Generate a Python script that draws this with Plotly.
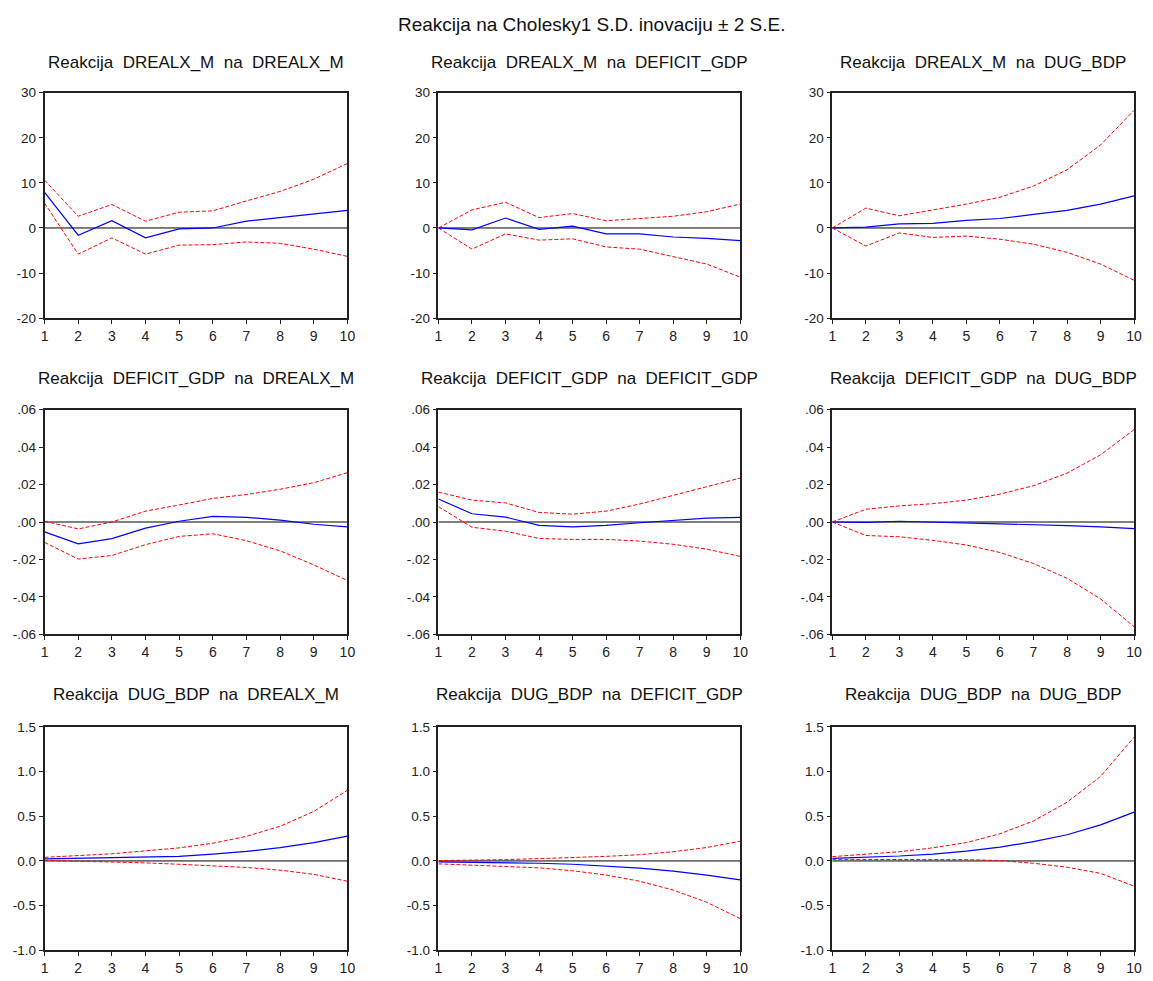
import plotly.graph_objects as go

periods = [1, 2, 3, 4, 5, 6, 7, 8, 9, 10]

titles = [
    "Reakcija  DREALX_M  na  DREALX_M",
    "Reakcija  DREALX_M  na  DEFICIT_GDP",
    "Reakcija  DREALX_M  na  DUG_BDP",
    "Reakcija  DEFICIT_GDP  na  DREALX_M",
    "Reakcija  DEFICIT_GDP  na  DEFICIT_GDP",
    "Reakcija  DEFICIT_GDP  na  DUG_BDP",
    "Reakcija  DUG_BDP  na  DREALX_M",
    "Reakcija  DUG_BDP  na  DEFICIT_GDP",
    "Reakcija  DUG_BDP  na  DUG_BDP",
]

# Row 1: DREALX_M responses
resp_1 = [7.9, -1.6, 1.6, -2.2, -0.2, 0.0, 1.5, 2.3, 3.0, 3.9]
up_1 = [10.6, 2.6, 5.2, 1.5, 3.5, 3.8, 6.0, 8.1, 10.8, 14.3]
lo_1 = [5.5, -5.8, -2.2, -5.8, -3.8, -3.7, -3.1, -3.4, -4.7, -6.3]

resp_2 = [0.0, -0.4, 2.2, -0.3, 0.4, -1.3, -1.3, -2.0, -2.3, -2.8]
up_2 = [0.0, 4.0, 5.7, 2.3, 3.2, 1.6, 2.1, 2.6, 3.6, 5.3]
lo_2 = [0.0, -4.7, -1.3, -2.7, -2.4, -4.2, -4.7, -6.4, -8.0, -10.9]

resp_3 = [0.0, 0.2, 0.9, 1.0, 1.7, 2.1, 3.0, 3.9, 5.3, 7.1]
up_3 = [0.0, 4.4, 2.7, 4.0, 5.3, 6.8, 9.3, 12.9, 18.4, 26.1]
lo_3 = [0.0, -4.0, -1.1, -2.1, -1.8, -2.5, -3.6, -5.4, -8.0, -11.6]

# Row 2: DEFICIT_GDP responses
resp_4 = [-0.0053, -0.0117, -0.0089, -0.0033, 0.0004, 0.0030, 0.0025, 0.0010, -0.0012, -0.0026]
up_4 = [0.0004, -0.0037, 0.0000, 0.0058, 0.0091, 0.0126, 0.0147, 0.0175, 0.0210, 0.0264]
lo_4 = [-0.0109, -0.0198, -0.0179, -0.0121, -0.0077, -0.0063, -0.0100, -0.0154, -0.0229, -0.0313]

resp_5 = [0.0123, 0.0044, 0.0026, -0.0018, -0.0026, -0.0018, -0.0004, 0.0010, 0.0021, 0.0025]
up_5 = [0.0160, 0.0117, 0.0102, 0.0051, 0.0042, 0.0058, 0.0096, 0.0142, 0.0186, 0.0235]
lo_5 = [0.0082, -0.0028, -0.0049, -0.0088, -0.0093, -0.0093, -0.0102, -0.0119, -0.0145, -0.0184]

resp_6 = [0.0, -0.0002, 0.0004, 0.0000, -0.0004, -0.0007, -0.0014, -0.0019, -0.0026, -0.0035]
up_6 = [0.0, 0.0068, 0.0086, 0.0098, 0.0117, 0.0149, 0.0194, 0.0261, 0.0359, 0.0494]
lo_6 = [0.0, -0.0072, -0.0079, -0.0098, -0.0123, -0.0163, -0.0222, -0.0301, -0.0411, -0.0560]

# Row 3: DUG_BDP responses
resp_7 = [0.022, 0.030, 0.033, 0.044, 0.051, 0.077, 0.106, 0.150, 0.205, 0.278]
up_7 = [0.040, 0.062, 0.080, 0.113, 0.146, 0.198, 0.275, 0.388, 0.553, 0.790]
lo_7 = [0.007, 0.000, -0.011, -0.022, -0.037, -0.051, -0.073, -0.103, -0.150, -0.227]

resp_8 = [-0.011, -0.015, -0.018, -0.026, -0.037, -0.055, -0.081, -0.114, -0.158, -0.212]
up_8 = [0.004, 0.007, 0.015, 0.026, 0.037, 0.051, 0.070, 0.103, 0.150, 0.220]
lo_8 = [-0.033, -0.051, -0.062, -0.077, -0.110, -0.157, -0.227, -0.326, -0.462, -0.645]

resp_9 = [0.029, 0.040, 0.055, 0.077, 0.110, 0.154, 0.216, 0.293, 0.403, 0.546]
up_9 = [0.048, 0.073, 0.103, 0.147, 0.205, 0.304, 0.447, 0.656, 0.945, 1.385]
lo_9 = [0.018, 0.015, 0.015, 0.015, 0.015, 0.004, -0.026, -0.070, -0.139, -0.282]

responses = [resp_1, resp_2, resp_3, resp_4, resp_5, resp_6, resp_7, resp_8, resp_9]
uppers = [up_1, up_2, up_3, up_4, up_5, up_6, up_7, up_8, up_9]
lowers = [lo_1, lo_2, lo_3, lo_4, lo_5, lo_6, lo_7, lo_8, lo_9]

row_yticks = [
    [30, 20, 10, 0, -10, -20],
    [0.06, 0.04, 0.02, 0.0, -0.02, -0.04, -0.06],
    [1.5, 1.0, 0.5, 0.0, -0.5, -1.0],
]
row_yticktext = [
    ["30", "20", "10", "0", "-10", "-20"],
    [".06", ".04", ".02", ".00", "-.02", "-.04", "-.06"],
    ["1.5", "1.0", "0.5", "0.0", "-0.5", "-1.0"],
]
row_yrange = [[-20, 30], [-0.06, 0.06], [-1.0, 1.5]]

main_title = "Reakcija na Cholesky1 S.D. inovaciju ± 2 S.E."

W, H = 1153, 981
col_px = [(41, 347), (439, 744), (837, 1142)]
row_px = [(87, 316), (409, 637), (731, 958)]
title_px_y = [56, 377, 698]

FONT = "Liberation Sans, Arial, sans-serif"

fig = go.Figure()
layout = dict(
    width=W, height=H,
    margin=dict(l=0, r=0, t=0, b=0),
    paper_bgcolor="white", plot_bgcolor="white",
    showlegend=False,
    font=dict(family=FONT, color="#222222"),
)
annotations = []

for i in range(9):
    r, c = divmod(i, 3)
    n = i + 1
    xa = "xaxis" if n == 1 else f"xaxis{n}"
    ya = "yaxis" if n == 1 else f"yaxis{n}"
    xref = "x" if n == 1 else f"x{n}"
    yref = "y" if n == 1 else f"y{n}"
    x0, x1 = col_px[c]
    y0, y1 = row_px[r]
    layout[xa] = dict(
        domain=[x0 / W, x1 / W], anchor=yref,
        range=[1, 10], tickvals=periods, ticktext=[str(p) for p in periods],
        ticks="outside", ticklen=4, tickwidth=1, tickcolor="#222222",
        showline=True, linecolor="#222222", linewidth=1.5, mirror=True,
        showgrid=False, zeroline=False,
        tickfont=dict(size=14, family=FONT, color="#222222"),
        fixedrange=True,
    )
    layout[ya] = dict(
        domain=[1 - y1 / H, 1 - y0 / H], anchor=xref,
        range=row_yrange[r], tickvals=row_yticks[r], ticktext=row_yticktext[r],
        ticks="outside", ticklen=4, tickwidth=1, tickcolor="#222222",
        showline=True, linecolor="#222222", linewidth=1.5, mirror=True,
        showgrid=False, zeroline=False,
        tickfont=dict(size=13.5, family=FONT, color="#222222"),
        fixedrange=True,
    )
    # zero line
    fig.add_trace(go.Scatter(
        x=[periods[0], periods[-1]], y=[0, 0], mode="lines",
        line=dict(color="#000000", width=1), xaxis=xref, yaxis=yref,
        hoverinfo="skip",
    ))
    fig.add_trace(go.Scatter(
        x=periods, y=uppers[i], mode="lines",
        line=dict(color="#ff0000", width=1, dash="4px,2px"),
        xaxis=xref, yaxis=yref,
    ))
    fig.add_trace(go.Scatter(
        x=periods, y=lowers[i], mode="lines",
        line=dict(color="#ff0000", width=1, dash="4px,2px"),
        xaxis=xref, yaxis=yref,
    ))
    fig.add_trace(go.Scatter(
        x=periods, y=responses[i], mode="lines",
        line=dict(color="#0000ff", width=1.2),
        xaxis=xref, yaxis=yref,
    ))
    annotations.append(dict(
        text=titles[i], xref="paper", yref="paper",
        x=(x0 + x1) / 2 / W, y=1 - title_px_y[r] / H,
        xanchor="center", yanchor="middle", showarrow=False,
        font=dict(size=17, family=FONT, color="#111111"),
    ))

annotations.append(dict(
    text=main_title, xref="paper", yref="paper",
    x=594 / W, y=1 - 18 / H, xanchor="center", yanchor="middle",
    showarrow=False, font=dict(size=19, family=FONT, color="#111111"),
))
layout["annotations"] = annotations
fig.update_layout(**layout)
fig.write_html("out.html")
